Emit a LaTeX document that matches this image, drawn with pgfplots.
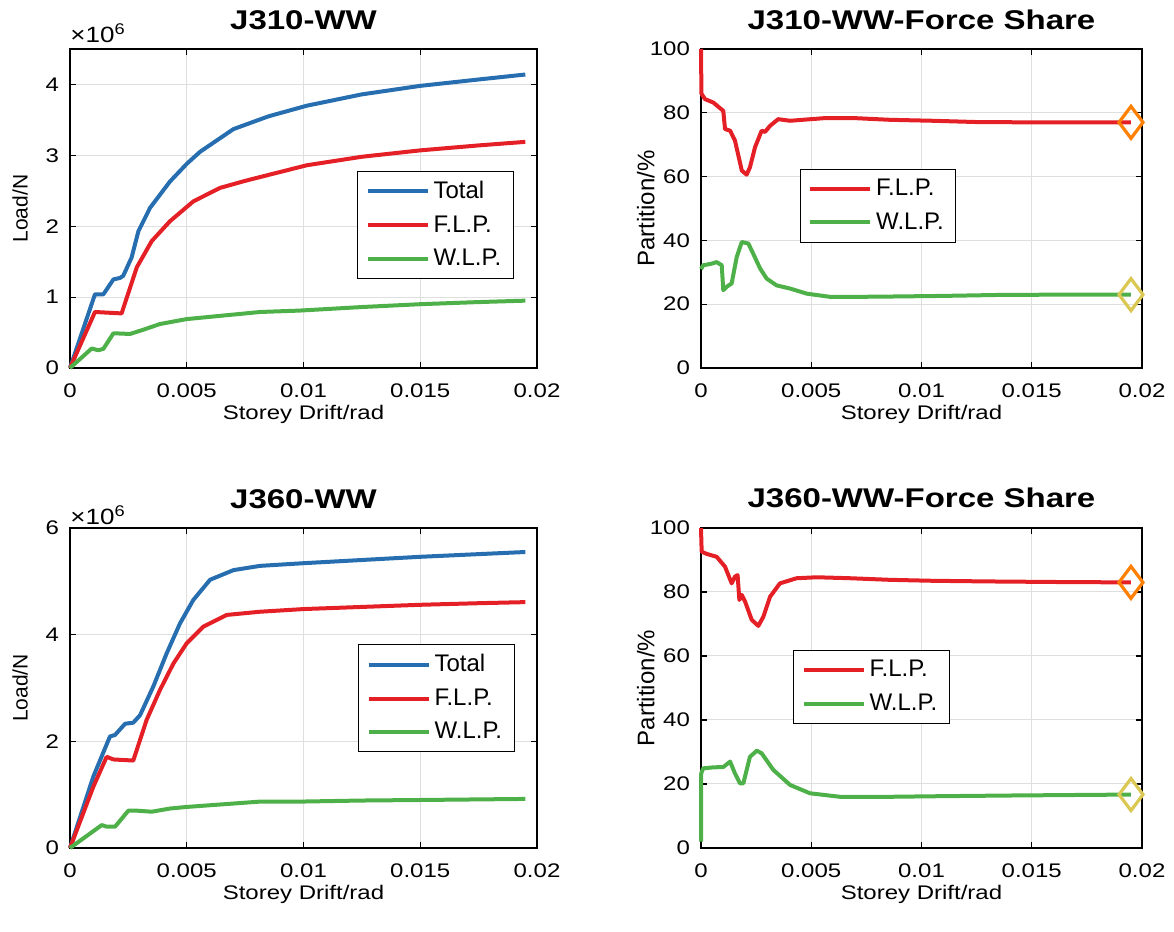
\documentclass[border=0pt]{standalone}
\usepackage{fontspec}
\setmainfont{Liberation Sans}
\usepackage{pgfplots}
\pgfplotsset{compat=1.18}
\definecolor{cBlue}{RGB}{38,110,175}
\definecolor{cRed}{RGB}{228,32,38}
\definecolor{cGreen}{RGB}{78,176,72}
\definecolor{cOrange}{RGB}{255,128,0}
\definecolor{cYellow}{RGB}{218,200,82}
\newcommand\tf{\fontsize{12}{12}\selectfont}
\pgfplotsset{
 legend image code/.code={\draw[#1, line width=2pt, line cap=butt] (0pt,0pt) -- (30pt,0pt);},
 base/.style={
  scale only axis, anchor=south west, clip=false,
  xmin=0, xmax=0.02, scaled x ticks=false,
  xtick={0,0.005,0.01,0.015,0.02},
  xticklabels={0,0.005,0.01,0.015,0.02},
  tick pos=both, tick align=inside,
  major tick length=3pt,
  tick style={black, line width=0.6pt},
  axis line style={black, line width=0.8pt},
  grid=major, major grid style={gray!25, line width=0.5pt},
  tick label style={font=\tf, yscale=0.82},
  xticklabel style={yshift=-6pt},
  yticklabel style={xshift=-2pt},
  title style={font=\fontsize{16.5}{16.5}\selectfont\bfseries, yscale=0.82, at={(axis description cs:0.5,1.025)}, anchor=base},
  xlabel style={font=\tf, yscale=0.82, at={(axis description cs:0.5,-0.145)}, anchor=center},
  xlabel={Storey Drift/rad},
  legend cell align=left,
  legend style={draw=black, fill=white, font=\tf, anchor=north west, row sep=3pt, inner xsep=4pt, inner ysep=3pt},
 },
 leftax/.style={ylabel={Load/N}, ylabel style={font=\fontsize{10.5}{10.5}\selectfont, at={(axis description cs:-0.107,0.5)}, anchor=center}},
 rightax/.style={ymin=0, ymax=100, ytick={0,20,40,60,80,100}, yticklabels={0,20,40,60,80,100},
   ylabel={Partition/\%}, ylabel style={font=\fontsize{12}{12}\selectfont, at={(axis description cs:-0.125,0.5)}, anchor=center}},
 ln/.style={line width=2pt, line join=round},
 dmk/.style={only marks, forget plot, mark=diamond, mark size=8pt, mark options={draw=#1, fill=none, line width=1.6pt}},
}
\begin{document}
\begin{tikzpicture}
\path[use as bounding box] (0,0) rectangle (587pt,466pt);
% Top-left
\begin{axis}[base, leftax, at={(35pt,282pt)}, width=233.5pt, height=159.5pt,
  ymin=0, ymax=4.5, ytick={0,1,2,3,4}, yticklabels={0,1,2,3,4},
  title={J310-WW}, legend style={at={(0.615,0.618)}}]
\addplot[ln, cBlue] coordinates {(0,0) (0.00107,1.04) (0.00143,1.04) (0.00186,1.25) (0.00214,1.27) (0.00228,1.30) (0.00264,1.56) (0.00293,1.93) (0.00343,2.26) (0.00428,2.63) (0.005,2.88) (0.00557,3.05) (0.007,3.37) (0.0085,3.55) (0.01014,3.70) (0.0125,3.86) (0.015,3.98) (0.0175,4.07) (0.0195,4.14)};
\addplot[ln, cRed] coordinates {(0,0) (0.00107,0.79) (0.00221,0.77) (0.00286,1.42) (0.0035,1.79) (0.00428,2.07) (0.00528,2.35) (0.00642,2.54) (0.0075,2.64) (0.01014,2.86) (0.0125,2.98) (0.015,3.07) (0.0175,3.14) (0.0195,3.19)};
\addplot[ln, cGreen] coordinates {(0,0) (0.00093,0.275) (0.00121,0.25) (0.00143,0.27) (0.00186,0.49) (0.00257,0.48) (0.00314,0.54) (0.00385,0.62) (0.005,0.69) (0.00814,0.79) (0.00985,0.81) (0.0125,0.86) (0.015,0.90) (0.0175,0.93) (0.0195,0.95)};
\legend{Total,F.L.P.,W.L.P.}
\node[anchor=west, font=\fontsize{13}{13}\selectfont, yscale=0.85, inner sep=0pt] at (axis description cs:0,1.05) {×10\textsuperscript{6}};
\end{axis}
% Top-right
\begin{axis}[base, rightax, at={(350.5pt,282pt)}, width=220.5pt, height=159.5pt,
  title={J310-WW-Force Share}, legend style={at={(0.224,0.625)}}]
\addplot[ln, cRed] coordinates {(0,100) (0.00002,86) (0.00018,84.3) (0.00056,83.2) (0.00101,80.6) (0.00109,74.9) (0.00132,74.4) (0.00154,71.3) (0.00185,61.9) (0.00207,60.6) (0.00222,62.9) (0.00245,69.2) (0.00275,74.4) (0.0029,74.0) (0.00313,75.9) (0.0035,78.0) (0.00404,77.5) (0.00555,78.3) (0.00706,78.3) (0.00857,77.8) (0.0105,77.5) (0.0125,77.1) (0.015,77.0) (0.0195,77.0)};
\addplot[ln, cGreen] coordinates {(0,31.0) (0.0001,32.2) (0.00048,32.7) (0.00071,33.2) (0.00094,32.2) (0.00101,24.4) (0.00117,25.5) (0.00139,26.5) (0.00162,34.8) (0.00185,39.5) (0.00215,39.0) (0.00237,35.8) (0.00268,31.2) (0.00298,28.0) (0.00343,25.9) (0.00404,24.9) (0.0048,23.3) (0.00585,22.3) (0.00706,22.3) (0.00857,22.4) (0.011,22.6) (0.0135,22.9) (0.0165,23.0) (0.0195,23.0)};
\addplot[dmk=cOrange] coordinates {(0.0195,77.0)};
\addplot[dmk=cYellow] coordinates {(0.0195,23.0)};
\legend{F.L.P.,W.L.P.}
\end{axis}
% Bottom-left
\begin{axis}[base, leftax, at={(35pt,42pt)}, width=233.5pt, height=160pt,
  ymin=0, ymax=6, ytick={0,2,4,6}, yticklabels={0,2,4,6},
  title={J360-WW}, legend style={at={(0.617,0.6375)}}]
\addplot[ln, cBlue] coordinates {(0,0) (0.001,1.34) (0.00171,2.09) (0.00193,2.12) (0.00236,2.33) (0.00271,2.35) (0.003,2.49) (0.00357,3.03) (0.00414,3.65) (0.00471,4.21) (0.00528,4.65) (0.006,5.03) (0.007,5.21) (0.00814,5.29) (0.01,5.34) (0.0125,5.40) (0.015,5.46) (0.0175,5.51) (0.0195,5.55)};
\addplot[ln, cRed] coordinates {(0,0) (0.001,1.15) (0.00157,1.71) (0.00186,1.66) (0.00271,1.64) (0.00328,2.40) (0.00385,2.96) (0.00443,3.46) (0.005,3.84) (0.00571,4.15) (0.00671,4.37) (0.00814,4.43) (0.01,4.48) (0.0125,4.52) (0.015,4.56) (0.0175,4.59) (0.0195,4.61)};
\addplot[ln, cGreen] coordinates {(0,0) (0.00136,0.43) (0.00157,0.40) (0.00193,0.40) (0.0025,0.70) (0.00286,0.70) (0.0035,0.68) (0.00428,0.74) (0.005,0.77) (0.00814,0.87) (0.00985,0.87) (0.0125,0.89) (0.015,0.90) (0.0195,0.92)};
\legend{Total,F.L.P.,W.L.P.}
\node[anchor=west, font=\fontsize{13}{13}\selectfont, yscale=0.85, inner sep=0pt] at (axis description cs:0,1.04) {×10\textsuperscript{6}};
\end{axis}
% Bottom-right
\begin{axis}[base, rightax, at={(350.5pt,42pt)}, width=220.5pt, height=160pt,
  title={J360-WW-Force Share}, legend style={at={(0.209,0.619)}}]
\addplot[ln, cRed] coordinates {(0,100) (0.00003,92.6) (0.00026,91.9) (0.00071,91.0) (0.00109,87.9) (0.00139,82.7) (0.00154,84.8) (0.00166,85.3) (0.00174,77.5) (0.00185,79.1) (0.002,77.0) (0.0023,71.3) (0.0026,69.4) (0.00283,72.3) (0.00313,78.5) (0.00358,82.7) (0.00434,84.3) (0.00525,84.6) (0.00676,84.3) (0.00857,83.8) (0.0105,83.5) (0.013,83.3) (0.0165,83.1) (0.0195,83.0)};
\addplot[ln, cGreen] coordinates {(0,2) (0.00001,23.3) (0.0001,24.9) (0.00056,25.2) (0.00101,25.3) (0.00132,27.0) (0.00154,23.3) (0.00177,20.2) (0.00192,20.2) (0.00222,28.5) (0.00253,30.4) (0.00275,29.6) (0.00328,24.4) (0.00404,19.7) (0.00494,17.1) (0.0063,16.0) (0.00857,16.0) (0.011,16.2) (0.014,16.4) (0.0195,16.7)};
\addplot[dmk=cOrange] coordinates {(0.0195,83.0)};
\addplot[dmk=cYellow] coordinates {(0.0195,16.7)};
\legend{F.L.P.,W.L.P.}
\end{axis}
\end{tikzpicture}
\end{document}
